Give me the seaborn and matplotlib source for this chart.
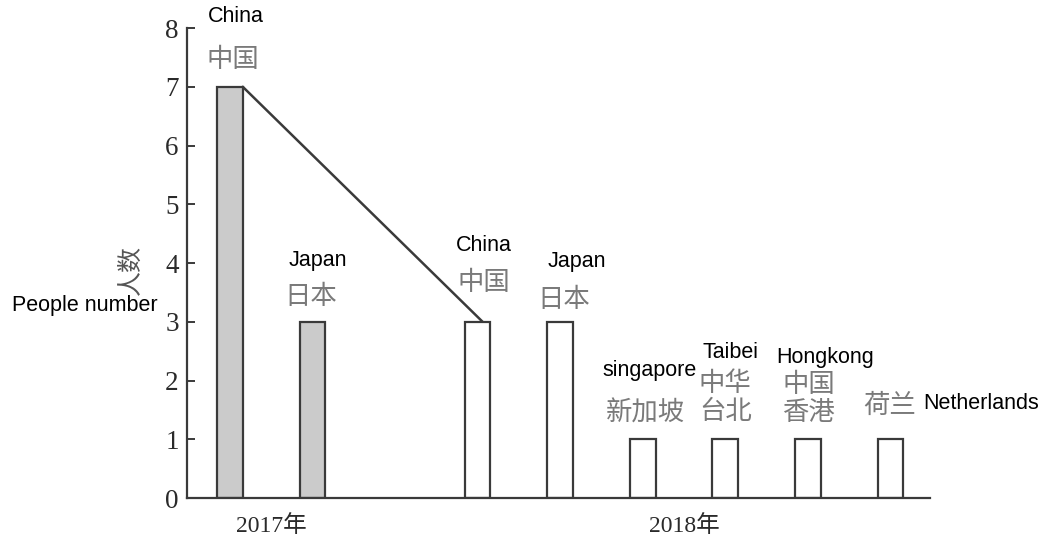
import matplotlib
matplotlib.use("Agg")
import matplotlib.pyplot as plt
import seaborn as sns
import pandas as pd

# ---------------------------------------------------
# Data
# ---------------------------------------------------

years = ["2017", "2017", "2018", "2018", "2018", "2018", "2018", "2018"]
slots = [0, 1, 3, 4, 5, 6, 7, 8]
people = [7, 3, 3, 3, 1, 1, 1, 1]
names_cn = ["中国", "日本", "中国", "日本", "新加坡", "中华\n台北", "中国\n香港", "荷兰"]
names_en = ["China", "Japan", "China", "Japan", "singapore", "Taibei", "Hongkong", "Netherlands"]
year_labels = ["2017年", "2018年"]
y_ticks = [0, 1, 2, 3, 4, 5, 6, 7, 8]

# label offsets from bar top centre, in pixels (dx, dy up)
cn_offsets = [(3, 27), (-2, 25), (6, 39), (4, 22), (3, 26), (0, 42), (1, 41), (-1, 34)]
en_offsets = [(6, 70), (5, 61), (6, 76), (17, 60), (7, 69), (5, 87), (17, 82), (33, 36)]

df = pd.DataFrame({"slot": slots, "people": people, "year": years})

CJK = ["Noto Sans CJK SC", "DejaVu Sans"]
SERIF = ["Liberation Serif", "Noto Sans CJK SC"]
SANS = ["Liberation Sans", "DejaVu Sans"]
DARK = "#3a3a3a"
BAR_W = 0.31

# ---------------------------------------------------
# Figure
# ---------------------------------------------------

sns.set_style("white")
plt.rcParams["font.family"] = CJK

fig = plt.figure(figsize=(10.53, 5.46), dpi=100)
ax = fig.add_axes([0.1776, 0.0879, 0.7056, 0.8608])

sns.barplot(
    data=df,
    x="slot",
    y="people",
    hue="year",
    palette={"2017": "#cbcbcb", "2018": "white"},
    native_scale=True,
    dodge=False,
    width=BAR_W,
    edgecolor=DARK,
    linewidth=1.6,
    legend=False,
    errorbar=None,
    ax=ax
)

# connecting line: China 2017 -> China 2018
ax.plot(
    [slots[0] + BAR_W / 2, slots[2] + 0.06],
    [people[0], people[2]],
    color=DARK,
    linewidth=1.8,
    zorder=3
)

px = 0.72  # pixel -> point at dpi 100

for i in range(len(slots)):

    dx, dy = cn_offsets[i]
    ax.annotate(
        names_cn[i],
        xy=(slots[i], people[i]),
        xytext=(dx * px, dy * px),
        textcoords="offset points",
        ha="center",
        va="center",
        fontsize=19,
        color="#7a7a7a",
        family=CJK,
        linespacing=1.05,
        annotation_clip=False
    )

    dx, dy = en_offsets[i]
    ax.annotate(
        names_en[i],
        xy=(slots[i], people[i]),
        xytext=(dx * px, dy * px),
        textcoords="offset points",
        ha="left" if names_en[i] == "Netherlands" else "center",
        va="center",
        fontsize=15.5,
        color="black",
        family=SANS,
        annotation_clip=False
    )

ax.set_xlim(-0.52, 8.48)
ax.set_ylim(0, 8)

ax.set_yticks(y_ticks)
ax.set_yticklabels([str(t) for t in y_ticks], family=SERIF, fontsize=19.5, color="#2a2a2a")

# year labels centred under each year's bars
year_pos = [
    sum(s for s, y in zip(slots, years) if y == yr) / years.count(yr)
    for yr in ["2017", "2018"]
]
ax.set_xticks(year_pos)
ax.set_xticklabels(year_labels, family=SERIF, fontsize=17, color="#2a2a2a")
ax.set_xlabel("")

ax.tick_params(axis="y", direction="in", length=6, width=1.4, color=DARK, pad=6, left=True)
ax.tick_params(axis="x", length=0, pad=12)

for side in ["top", "right"]:
    ax.spines[side].set_visible(False)
for side in ["left", "bottom"]:
    ax.spines[side].set_color(DARK)
    ax.spines[side].set_linewidth(1.6)

ax.set_ylabel("人数", family=CJK, fontsize=18, color="#555555")
ax.yaxis.set_label_coords(-0.058, 0.485)

ax.text(
    -0.137, 0.41,
    "People number",
    transform=ax.transAxes,
    ha="center",
    va="center",
    fontsize=15.5,
    family=SANS,
    color="black"
)

plt.savefig("out.png", dpi=100)

plt.close()
